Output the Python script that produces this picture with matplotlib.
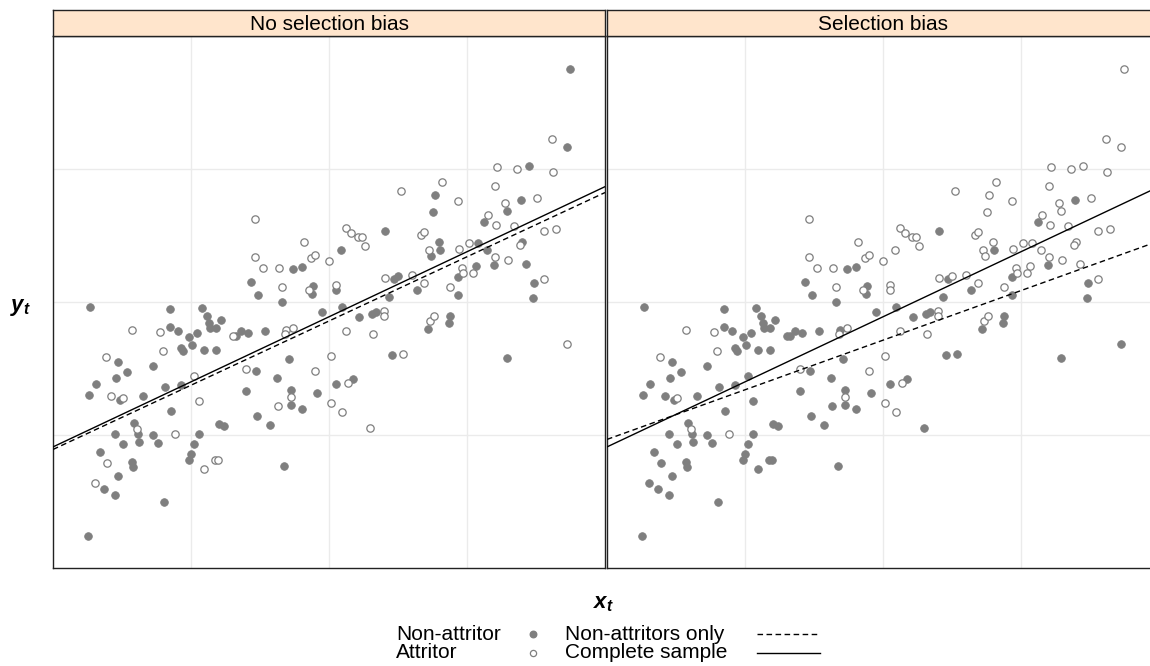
import matplotlib
matplotlib.use("Agg")
import matplotlib.pyplot as plt
from matplotlib.lines import Line2D
import numpy as np

# data (arbitrary units, no tick labels in the original)
x_t = [37, 117, 149, 154, 156, 157, 163, 168, 79, 107, 117, 125, 136, 144, 180, 183, 188, 195, 212, 233,
       240, 232, 53, 65, 63, 74, 43, 36, 58, 67, 70, 90, 100, 110, 128, 130, 139, 151, 163, 112,
       128, 141, 146, 118, 193, 203, 193, 224, 236, 238, 238, 238, 225, 249, 262, 264, 278, 278, 81, 84,
       85, 62, 70, 86, 100, 105, 122, 146, 141, 166, 171, 204, 217, 47, 54, 79, 80, 65, 42, 51,
       62, 138, 136, 162, 165, 151, 111, 35, 231, 202, 251, 202, 258, 262, 276, 210, 226, 240, 249, 198,
       229, 205, 256, 260, 259, 229, 269, 517, 499, 514, 444, 464, 476, 500, 389, 348, 382, 442, 405, 484,
       468, 452, 454, 380, 435, 431, 443, 461, 491, 503, 293, 298, 305, 309, 312, 288, 332, 368, 371, 386,
       376, 387, 378, 406, 416, 425, 434, 442, 469, 467, 455, 441, 423, 409, 410, 405, 420, 473, 481, 491,
       332, 341, 345, 359, 371, 364, 397, 405, 283, 283, 336, 480, 289, 306, 319, 323, 331, 331, 293, 320,
       339, 350, 283, 295, 300, 289, 317, 375, 377, 381, 397, 396, 454, 514]
y_t = [261, 259, 260, 252, 245, 240, 240, 248, 238, 236, 241, 237, 231, 235, 232, 232, 237, 235, 237, 238,
       240, 234, 211, 206, 190, 196, 184, 173, 172, 168, 170, 172, 202, 217, 220, 217, 223, 218, 218, 181,
       183, 192, 167, 157, 199, 197, 177, 190, 209, 178, 171, 163, 162, 159, 197, 175, 212, 165, 145, 139,
       134, 134, 124, 126, 133, 125, 134, 134, 124, 144, 142, 152, 143, 116, 105, 106, 101, 92, 85, 79,
       73, 114, 108, 108, 108, 99, 66, 32, 102, 349, 326, 311, 310, 313, 307, 300, 300, 299, 301, 286,
       281, 273, 278, 282, 274, 266, 256, 499, 429, 421, 401, 399, 402, 396, 386, 377, 373, 382, 367, 370,
       368, 365, 357, 356, 353, 346, 343, 342, 337, 339, 340, 335, 331, 331, 322, 318, 337, 333, 336, 326,
       318, 318, 312, 319, 325, 325, 318, 311, 326, 323, 308, 303, 302, 300, 295, 291, 295, 304, 285, 289,
       290, 289, 292, 293, 285, 278, 281, 273, 283, 278, 271, 270, 261, 251, 254, 256, 257, 252, 237, 234,
       213, 214, 184, 185, 189, 156, 140, 239, 247, 252, 252, 245, 210, 224]
# 1 = attritor (open circle), 0 = non-attritor (filled)
attr_random = [0, 0, 0, 0, 0, 0, 0, 0, 1, 1, 0, 0, 0, 0, 1, 0, 0, 0, 0, 1,
               1, 1, 1, 0, 0, 0, 0, 0, 1, 0, 1, 0, 0, 1, 0, 0, 0, 0, 0, 0,
               0, 1, 1, 0, 1, 0, 0, 0, 0, 0, 1, 0, 1, 0, 1, 0, 1, 1, 0, 1,
               0, 0, 0, 0, 0, 0, 1, 0, 0, 0, 0, 0, 0, 0, 1, 0, 0, 0, 1, 0,
               0, 0, 0, 1, 1, 1, 0, 0, 0, 1, 1, 1, 1, 1, 1, 1, 1, 0, 0, 0,
               1, 0, 1, 0, 0, 0, 0, 0, 1, 0, 1, 1, 0, 1, 1, 1, 0, 1, 1, 1,
               0, 1, 0, 0, 1, 0, 1, 1, 1, 1, 1, 1, 1, 1, 1, 0, 0, 1, 1, 0,
               1, 0, 0, 1, 1, 0, 0, 1, 0, 1, 1, 0, 0, 1, 1, 0, 1, 0, 0, 1,
               1, 0, 0, 1, 1, 0, 1, 0, 1, 0, 0, 0, 0, 0, 0, 0, 1, 1, 1, 1,
               0, 1, 0, 1, 0, 1, 1, 0, 1, 1, 0, 0, 0, 1]
attr_selected = [0, 0, 0, 0, 0, 0, 0, 0, 1, 1, 0, 0, 0, 0, 0, 0, 0, 0, 0, 0,
                 1, 1, 1, 0, 0, 0, 0, 0, 0, 0, 1, 0, 0, 1, 0, 0, 0, 0, 0, 0,
                 0, 0, 0, 0, 1, 0, 0, 0, 0, 0, 1, 0, 0, 0, 1, 0, 1, 1, 0, 1,
                 0, 0, 0, 0, 0, 0, 1, 0, 0, 0, 0, 0, 0, 0, 0, 0, 0, 0, 0, 0,
                 0, 0, 0, 0, 0, 0, 0, 0, 0, 1, 1, 1, 1, 1, 1, 1, 1, 0, 0, 0,
                 1, 0, 1, 0, 0, 0, 0, 1, 1, 1, 1, 1, 1, 1, 1, 1, 1, 1, 1, 1,
                 0, 1, 1, 1, 1, 0, 1, 1, 1, 1, 1, 1, 1, 1, 1, 1, 0, 1, 1, 1,
                 1, 0, 1, 1, 1, 1, 1, 1, 1, 1, 1, 0, 1, 1, 1, 0, 1, 1, 0, 1,
                 1, 0, 1, 1, 1, 0, 1, 0, 1, 1, 0, 0, 0, 0, 0, 0, 1, 1, 1, 1,
                 0, 0, 0, 1, 0, 1, 0, 0, 1, 1, 0, 0, 0, 0]
panels = ["No selection bias", "Selection bias"]
x_breaks = [138, 276, 414]
y_breaks = [133, 266, 399]

plt.rcParams["font.family"] = ["Liberation Sans", "DejaVu Sans"]
plt.rcParams["mathtext.fontset"] = "custom"
plt.rcParams["mathtext.it"] = "Liberation Sans:italic:bold"
plt.rcParams["mathtext.rm"] = "Liberation Sans"

grey = "#7f7f7f"
strip_col = "#ffe5cc"
W, H = 1150, 666

fig = plt.figure(figsize=(W / 100, H / 100), dpi=100)
fig.patch.set_facecolor("white")

xa = np.array(x_t, dtype=float)
ya = np.array(y_t, dtype=float)

panel_left = [53, 607]
pw, top, bot = 552, 36, 568
for k, (name, status) in enumerate(zip(panels, [attr_random, attr_selected])):
    st = np.array(status, dtype=bool)
    l = panel_left[k]
    ax = fig.add_axes([l / W, 1 - bot / H, pw / W, (bot - top) / H])
    ax.set_xlim(0, 552)
    ax.set_ylim(0, 532)
    ax.set_xticks(x_breaks)
    ax.set_yticks(y_breaks)
    ax.tick_params(length=0, labelbottom=False, labelleft=False)
    ax.grid(True, color="#ebebeb", linewidth=1)
    ax.set_axisbelow(True)
    for sp in ax.spines.values():
        sp.set_color("#222222")
        sp.set_linewidth(1.0)
    ax.scatter(xa[~st], ya[~st], s=30, color=grey, edgecolors=grey, linewidths=0.6, zorder=3)
    ax.scatter(xa[st], ya[st], s=28, facecolors="white", edgecolors=grey, linewidths=0.9, zorder=3)
    xs = np.array([0, 552])
    b_all = np.polyfit(xa, ya, 1)
    b_non = np.polyfit(xa[~st], ya[~st], 1)
    ax.plot(xs, np.polyval(b_all, xs), color="black", linewidth=1.0, zorder=4)
    ax.plot(xs, np.polyval(b_non, xs), color="black", linewidth=1.0, linestyle=(0, (4, 2.5)), zorder=4)
    # strip
    sax = fig.add_axes([l / W, 1 - top / H, pw / W, 26 / H])
    sax.set_facecolor(strip_col)
    sax.set_xticks([])
    sax.set_yticks([])
    for sp in sax.spines.values():
        sp.set_color("#222222")
        sp.set_linewidth(1.0)
    sax.text(0.5, 0.45, name, ha="center", va="center", fontsize=15, transform=sax.transAxes)

# axis labels
fig.text(604 / W, 1 - 603 / H, r"$x_t$", ha="center", va="center", fontsize=16)
fig.text(20 / W, 1 - 307 / H, r"$y_t$", ha="center", va="center", fontsize=16)

# legend
lax = fig.add_axes([0, 0, 1, 1])
lax.set_xlim(0, W)
lax.set_ylim(H, 0)
lax.axis("off")
rows = [634, 653]
lax.text(396, rows[0], "Non-attritor", ha="left", va="center", fontsize=15)
lax.text(396, rows[1], "Attritor", ha="left", va="center", fontsize=15)
lax.scatter([533], [rows[0]], s=22, color=grey)
lax.scatter([533], [rows[1]], s=20, facecolors="white", edgecolors=grey, linewidths=0.9)
lax.text(565, rows[0], "Non-attritors only", ha="left", va="center", fontsize=15)
lax.text(565, rows[1], "Complete sample", ha="left", va="center", fontsize=15)
lax.add_line(Line2D([757, 820], [rows[0], rows[0]], color="black", linewidth=1.0, linestyle=(0, (4, 2.5))))
lax.add_line(Line2D([757, 820], [rows[1], rows[1]], color="black", linewidth=1.0))

fig.savefig("out.png", dpi=100)
plt.close(fig)
